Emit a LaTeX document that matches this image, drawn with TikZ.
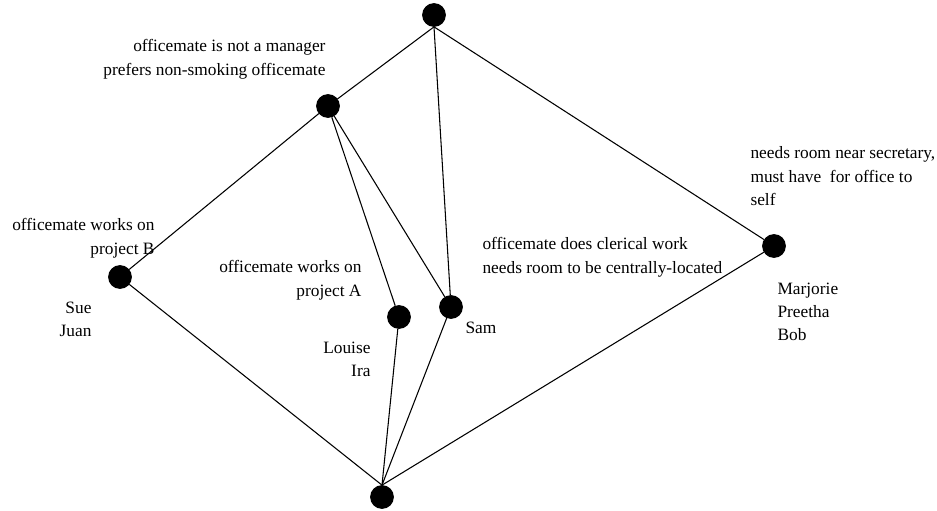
\documentclass[tikz,border=0pt]{standalone}
\usepackage{fontspec}
\setmainfont{Liberation Serif}
\usepackage{tikz}

\begin{document}
\begin{tikzpicture}[line width=0.8pt,x=0.75pt,y=-0.75pt]
    \tikzstyle{dot}=[draw=black, circle, fill=black, minimum size=17, inner sep=0pt]
    \tikzstyle{lbl}=[inner sep=0pt, font=\fontsize{13}{17.6}\selectfont]
    \useasboundingbox (0,0) rectangle (937,510);

    \node[dot] (top)    at (434,15)  {};
    \node[dot] (mgr)    at (328,106) {};
    \node[dot] (projb)  at (120,277) {};
    \node[dot] (proja)  at (399,317) {};
    \node[dot] (sam)    at (451,307) {};
    \node[dot] (secr)   at (774,246) {};
    \node[dot] (bottom) at (382,497) {};

    \node[lbl, anchor=north east, align=right] (mgrl)   at (326,39)  {officemate is not a manager\\prefers non-smoking officemate};
    \node[lbl, anchor=north east, align=right] (projbl) at (155,218) {officemate works on\\project B};
    \node[lbl, anchor=north east, align=right] (suel)   at (92,301)  {Sue\\Juan};
    \node[lbl, anchor=north east, align=right] (projal) at (362,260) {officemate works on\\project A};
    \node[lbl, anchor=north east, align=right] (louil)  at (371,341) {Louise\\Ira};
    \node[lbl, anchor=north west]              (saml)   at (465,321) {Sam};
    \node[lbl, anchor=north west, align=left]  (clerl)  at (482,237) {officemate does clerical work\\needs room to be centrally-located};
    \node[lbl, anchor=north west, align=left]  (secrl)  at (750,146) {needs room near secretary,\\must have\ \ for office to\\self};
    \node[lbl, anchor=north west, align=left]  (marjl)  at (777,282) {Marjorie\\Preetha\\Bob};

    \path
     (top.south) edge (mgr)
     (top.south) edge (sam)
     (top.south) edge (secr)
     (mgr)  edge (projb)
     (mgr)  edge (proja)
     (mgr)  edge (sam)
     (projb) edge (bottom.north)
     (proja) edge (bottom.north)
     (sam)  edge (bottom.north)
     (secr) edge (bottom.north)
     ;
\end{tikzpicture}
\end{document}
